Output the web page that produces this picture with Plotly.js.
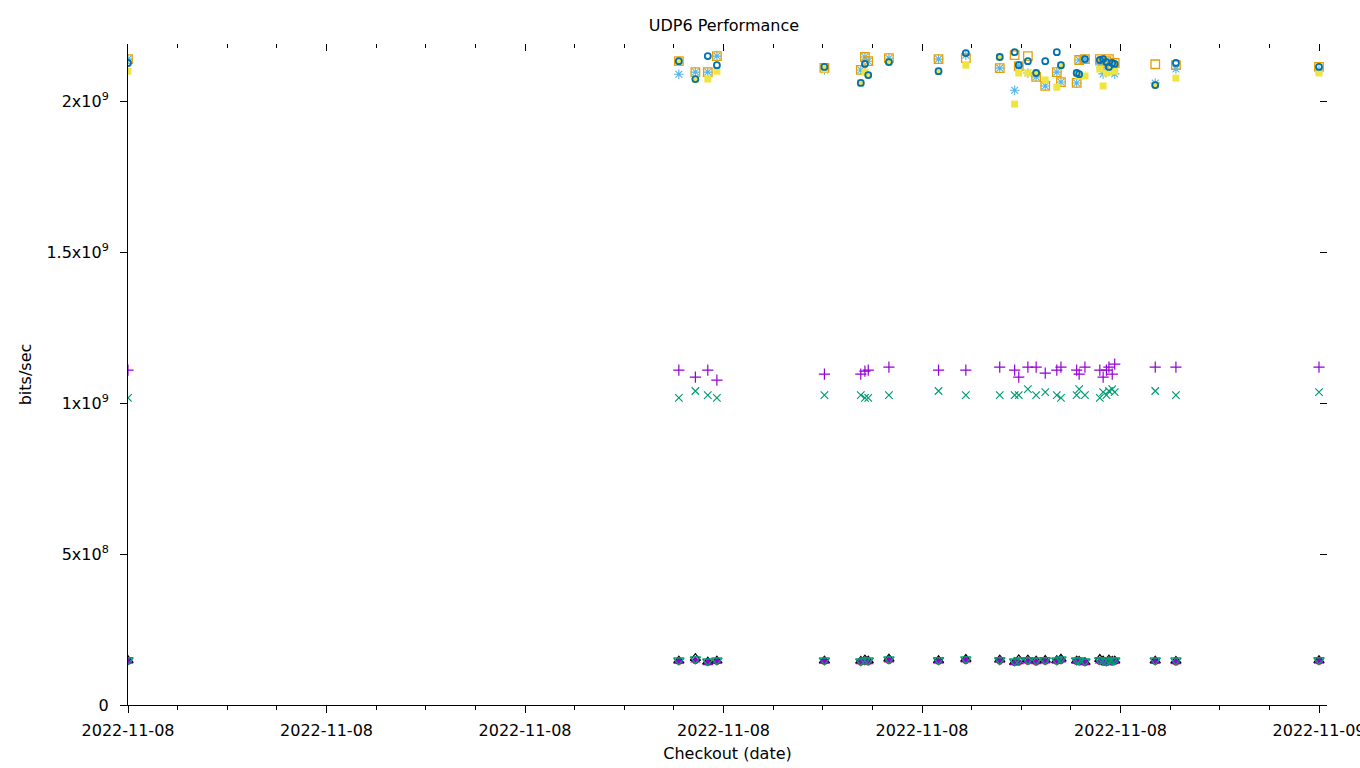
<!DOCTYPE html>
<html>
<head>
<meta charset="utf-8">
<script src="https://cdn.plot.ly/plotly-3.0.1.min.js"></script>
<style>html,body{margin:0;padding:0;background:#fff;}#chart{width:1360px;height:768px;}</style>
</head>
<body>
<div id="chart"></div>
<script>
// Checkout times
var times = [
  '2022-11-08 00:00','2022-11-08 11:06','2022-11-08 11:26','2022-11-08 11:41','2022-11-08 11:52',
  '2022-11-08 14:02','2022-11-08 14:46','2022-11-08 14:51','2022-11-08 14:55','2022-11-08 15:20',
  '2022-11-08 16:20','2022-11-08 16:53','2022-11-08 17:34','2022-11-08 17:52','2022-11-08 17:57',
  '2022-11-08 18:08','2022-11-08 18:18','2022-11-08 18:29','2022-11-08 18:43','2022-11-08 18:48',
  '2022-11-08 19:07','2022-11-08 19:10','2022-11-08 19:17','2022-11-08 19:35','2022-11-08 19:39',
  '2022-11-08 19:43','2022-11-08 19:46','2022-11-08 19:50','2022-11-08 19:53','2022-11-08 20:42',
  '2022-11-08 21:07','2022-11-09 00:00'
];
// series values (bits/sec)
var seriesPlus = [1.109e9,1.109e9,1.086e9,1.109e9,1.076e9,1.096e9,1.096e9,1.106e9,1.109e9,1.119e9,
  1.109e9,1.109e9,1.119e9,1.109e9,1.086e9,1.119e9,1.119e9,1.099e9,1.109e9,1.119e9,
  1.109e9,1.096e9,1.119e9,1.109e9,1.086e9,1.109e9,1.119e9,1.096e9,1.129e9,1.119e9,1.119e9,1.119e9];
var seriesCross = [1.017e9,1.017e9,1.040e9,1.026e9,1.017e9,1.026e9,1.026e9,1.017e9,1.017e9,1.026e9,
  1.040e9,1.026e9,1.026e9,1.026e9,1.026e9,1.046e9,1.026e9,1.036e9,1.026e9,1.017e9,
  1.026e9,1.046e9,1.026e9,1.017e9,1.036e9,1.026e9,1.040e9,1.046e9,1.036e9,1.040e9,1.026e9,1.036e9];
var seriesStar = [2.139e9,2.089e9,2.096e9,2.096e9,2.149e9,2.103e9,2.103e9,2.146e9,2.132e9,2.142e9,
  2.139e9,2.152e9,2.109e9,2.036e9,2.116e9,2.093e9,2.080e9,2.050e9,2.096e9,2.063e9,
  2.060e9,2.136e9,2.139e9,2.120e9,2.090e9,2.110e9,2.130e9,2.100e9,2.090e9,2.060e9,2.106e9,2.103e9];
var seriesBox = [2.139e9,2.132e9,2.096e9,2.096e9,2.149e9,2.110e9,2.103e9,2.146e9,2.132e9,2.142e9,
  2.139e9,2.142e9,2.109e9,2.152e9,2.116e9,2.149e9,2.080e9,2.050e9,2.096e9,2.063e9,
  2.060e9,2.136e9,2.139e9,2.139e9,2.126e9,2.132e9,2.139e9,2.116e9,2.126e9,2.122e9,2.119e9,2.113e9];
var seriesFilledBox = [2.099e9,2.130e9,2.073e9,2.073e9,2.099e9,2.106e9,2.060e9,2.096e9,2.086e9,2.129e9,
  2.099e9,2.119e9,2.146e9,1.990e9,2.093e9,2.093e9,2.093e9,2.070e9,2.046e9,2.119e9,
  2.093e9,2.083e9,2.083e9,2.106e9,2.050e9,2.093e9,2.096e9,2.106e9,2.099e9,2.053e9,2.076e9,2.093e9];
var seriesCircle = [2.126e9,2.132e9,2.073e9,2.149e9,2.119e9,2.113e9,2.060e9,2.123e9,2.086e9,2.129e9,
  2.099e9,2.159e9,2.146e9,2.162e9,2.119e9,2.132e9,2.093e9,2.132e9,2.162e9,2.119e9,
  2.093e9,2.089e9,2.139e9,2.136e9,2.139e9,2.129e9,2.113e9,2.126e9,2.123e9,2.053e9,2.126e9,2.113e9];
var seriesRed = [0.142e9,0.142e9,0.145e9,0.139e9,0.142e9,0.142e9,0.140e9,0.142e9,0.141e9,0.145e9,
  0.142e9,0.145e9,0.143e9,0.138e9,0.140e9,0.142e9,0.140e9,0.142e9,0.142e9,0.145e9,
  0.142e9,0.141e9,0.138e9,0.142e9,0.140e9,0.138e9,0.142e9,0.140e9,0.142e9,0.142e9,0.140e9,0.142e9];
var seriesTriOpen = [0.148e9,0.147e9,0.155e9,0.143e9,0.147e9,0.147e9,0.146e9,0.150e9,0.147e9,0.153e9,
  0.148e9,0.152e9,0.150e9,0.142e9,0.151e9,0.150e9,0.147e9,0.149e9,0.148e9,0.153e9,
  0.147e9,0.146e9,0.142e9,0.152e9,0.147e9,0.142e9,0.150e9,0.146e9,0.147e9,0.147e9,0.146e9,0.148e9];
var seriesTriFilled = [0.145e9,0.145e9,0.148e9,0.139e9,0.145e9,0.145e9,0.142e9,0.145e9,0.142e9,0.148e9,
  0.145e9,0.148e9,0.148e9,0.139e9,0.142e9,0.145e9,0.142e9,0.145e9,0.145e9,0.148e9,
  0.145e9,0.142e9,0.139e9,0.145e9,0.142e9,0.139e9,0.145e9,0.142e9,0.145e9,0.145e9,0.142e9,0.145e9];
var seriesTriDown = [0.149e9,0.148e9,0.152e9,0.145e9,0.148e9,0.148e9,0.145e9,0.148e9,0.148e9,0.152e9,
  0.149e9,0.152e9,0.149e9,0.145e9,0.148e9,0.149e9,0.148e9,0.149e9,0.148e9,0.152e9,
  0.148e9,0.148e9,0.145e9,0.149e9,0.148e9,0.145e9,0.149e9,0.148e9,0.148e9,0.148e9,0.148e9,0.149e9];

var yTickVals = [0, 5e8, 1e9, 1.5e9, 2e9];
var yTickText = ['0', '5x10<sup>8</sup>', '1x10<sup>9</sup>', '1.5x10<sup>9</sup>', '2x10<sup>9</sup>'];

function tr(y, symbol, color, size, lw, filled) {
  return {
    x: times, y: y, type: 'scatter', mode: 'markers', hoverinfo: 'skip', showlegend: false,
    marker: filled ? {symbol: symbol, color: color, size: size, line: {width: 0}}
                   : {symbol: symbol, color: color, size: size, line: {color: color, width: lw}}
  };
}

var data = [
  tr(seriesPlus, 'cross-thin-open', '#9400d3', 8, 1.2, false),
  tr(seriesCross, 'x-thin-open', '#009e73', 7.5, 1.2, false),
  tr(seriesStar, 'asterisk-open', '#56b4e9', 8, 1.1, false),
  tr(seriesBox, 'square-open', '#e69f00', 8.5, 1.3, false),
  tr(seriesFilledBox, 'square', '#f0e442', 7, 0, true),
  tr(seriesCircle, 'circle-open', '#0072b2', 6, 1.8, false),
  tr(seriesRed, 'circle', '#e51e10', 6, 0, true),
  tr(seriesTriOpen, 'triangle-up-open', '#000000', 9, 1.2, false),
  tr(seriesTriFilled, 'triangle-up', '#9400d3', 9, 0, true),
  tr(seriesTriDown, 'triangle-down-open', '#009e73', 9, 1.4, false),
  {x: [], y: [], xaxis: 'x2', yaxis: 'y2', type: 'scatter', mode: 'markers', hoverinfo: 'skip', showlegend: false}
];

var xRange = ['2022-11-08 00:00:00', '2022-11-09 00:09:40'];
var yRange = [0, 2.189e9];
var font = {family: 'DejaVu Sans', size: 16, color: '#000'};

var layout = {
  width: 1360, height: 768,
  margin: {l: 128, r: 33, t: 44, b: 63, pad: 0},
  paper_bgcolor: '#fff', plot_bgcolor: '#fff',
  font: font,
  title: {text: 'UDP6 Performance', font: {family: 'DejaVu Sans', size: 16, color: '#000'},
          xref: 'paper', x: 0.497, xanchor: 'center', yref: 'container', y: 1 - 25/768, yanchor: 'middle'},
  hovermode: false,
  xaxis: {
    type: 'date', range: xRange, autorange: false,
    tick0: '2022-11-08 00:00:00', dtick: 4*3600000, tickformat: '%Y-%m-%d',
    ticks: 'outside', ticklen: 7, tickwidth: 1, tickcolor: '#000',
    minor: {dtick: 3600000, ticks: 'outside', ticklen: 4, tickcolor: '#000', showgrid: false},
    showline: true, linecolor: '#000', linewidth: 1, mirror: false,
    showgrid: false, zeroline: false, automargin: false,
    tickfont: font, ticklabelstandoff: 4, ticklabeloverflow: 'allow',
    title: {text: 'Checkout (date)', font: font, standoff: 8}
  },
  yaxis: {
    range: yRange, autorange: false,
    tickvals: yTickVals, ticktext: yTickText,
    ticks: 'outside', ticklen: 7, tickwidth: 1, tickcolor: '#000',
    showline: true, linecolor: '#000', linewidth: 1, mirror: false,
    showgrid: false, zeroline: false, automargin: false,
    tickfont: font, ticklabelstandoff: 8,
    title: {text: 'bits/sec', font: font, standoff: 10}
  },
  xaxis2: {
    type: 'date', overlaying: 'x', side: 'top', range: xRange, autorange: false,
    tick0: '2022-11-08 00:00:00', dtick: 4*3600000,
    ticks: 'inside', ticklen: 7, tickwidth: 1, tickcolor: '#000',
    minor: {dtick: 3600000, ticks: 'inside', ticklen: 4, tickcolor: '#000', showgrid: false},
    showticklabels: false, showline: false, showgrid: false, zeroline: false, automargin: false
  },
  yaxis2: {
    overlaying: 'y', side: 'right', range: yRange, autorange: false,
    tickvals: yTickVals,
    ticks: 'inside', ticklen: 7, tickwidth: 1, tickcolor: '#000',
    showticklabels: false, showline: false, showgrid: false, zeroline: false, automargin: false
  }
};

Plotly.newPlot('chart', data, layout, {displayModeBar: false, staticPlot: true});
</script>
</body>
</html>
